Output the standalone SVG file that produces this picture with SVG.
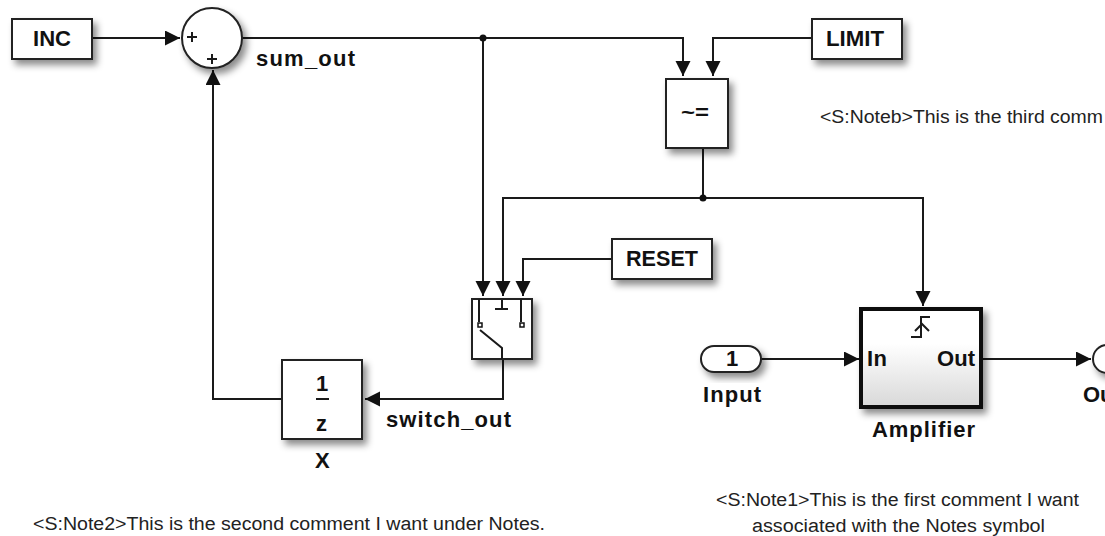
<svg xmlns="http://www.w3.org/2000/svg" width="1105" height="536" viewBox="0 0 1105 536">
<style>
text{font-family:"Liberation Sans",Arial,sans-serif;fill:#111}
.b{font-weight:bold;font-size:22px}
.c{font-size:18px;fill:#222}
.box{fill:#fff;stroke:#222;stroke-width:2;filter:url(#sh)}
.w{fill:none;stroke:#1a1a1a;stroke-width:2}
.i{fill:none;stroke:#1a1a1a;stroke-width:2}
</style>
<defs>
<filter id="sh" x="-30%" y="-30%" width="170%" height="170%"><feDropShadow dx="4" dy="5" stdDeviation="3.5" flood-color="#000" flood-opacity="0.45"/></filter>
<linearGradient id="g" x1="0" y1="0" x2="0" y2="1"><stop offset="0.35" stop-color="#fff"/><stop offset="1" stop-color="#d8d8d8"/></linearGradient>
<marker id="a" markerUnits="userSpaceOnUse" markerWidth="16" markerHeight="16" refX="15" refY="7.5" orient="auto"><path d="M0 0L15 7.5L0 15Z" fill="#111"/></marker>
</defs>
<g id="connectors">
<path class="w" d="M92 38H180" marker-end="url(#a)"/>
<path class="w" d="M242 38H683V76" marker-end="url(#a)"/>
<path class="w" d="M483 38V296" marker-end="url(#a)"/>
<path class="w" d="M812 38H713V76" marker-end="url(#a)"/>
<path class="w" d="M703 148V198H503V296" marker-end="url(#a)"/>
<path class="w" d="M703 198H923V306" marker-end="url(#a)"/>
<path class="w" d="M612 259H523V296" marker-end="url(#a)"/>
<path class="w" d="M503 359V399H365" marker-end="url(#a)"/>
<path class="w" d="M282 399H213V70" marker-end="url(#a)"/>
<path class="w" d="M761 359H859" marker-end="url(#a)"/>
<path class="w" d="M981 359H1091" marker-end="url(#a)"/>
<circle cx="483" cy="38" r="3.5" fill="#111"/>
<circle cx="703" cy="198" r="3.5" fill="#111"/>
</g>
<g id="inc"><rect class="box" x="12" y="19" width="80" height="40"/><text class="b" x="33" y="46" textLength="38" lengthAdjust="spacingAndGlyphs">INC</text></g>
<g id="sum"><circle class="box" cx="212" cy="38" r="30"/>
<path class="i" d="M187 37H197M192 32V42M207 59H217M212 54V64"/></g>
<text class="b" x="256" y="66" textLength="99">sum_out</text>
<g id="limit"><rect class="box" x="812" y="19" width="90" height="40"/><text class="b" x="826" y="46" textLength="58" lengthAdjust="spacingAndGlyphs">LIMIT</text></g>
<g id="compare"><rect class="box" x="666" y="79" width="62" height="69"/><text x="681" y="119" style="font-size:20px;font-weight:bold" textLength="28" lengthAdjust="spacingAndGlyphs">~=</text></g>
<g id="reset"><rect class="box" x="612" y="239" width="100" height="40"/><text class="b" x="626" y="266" textLength="72" lengthAdjust="spacingAndGlyphs">RESET</text></g>
<g id="switch"><rect class="box" x="472" y="299" width="60" height="60"/>
<path class="i" d="M479 299V322M521 299V322M495 309H508M502 300V309M480 330L502 348V359"/>
<rect x="478" y="323" width="4" height="4" fill="#fff" stroke="#111" stroke-width="1.500"/>
<rect x="520" y="323" width="4" height="4" fill="#fff" stroke="#111" stroke-width="1.500"/></g>
<g id="delay"><rect class="box" x="282" y="360" width="80" height="79"/>
<text class="b" x="316" y="391">1</text><path class="i" d="M316 399H329"/><text class="b" x="316" y="431">z</text></g>
<text class="b" x="315" y="468">X</text>
<text class="b" x="386" y="427" textLength="125">switch_out</text>
<g id="input"><rect class="box" x="701" y="346" width="60" height="26" rx="13"/><text class="b" x="726" y="366">1</text></g>
<text class="b" x="703" y="402" textLength="58">Input</text>
<g id="amplifier"><rect x="861" y="309" width="120" height="98" fill="url(#g)" stroke="#111" stroke-width="4" filter="url(#sh)"/>
<path class="i" d="M930 317H921V337H911M915 331L922 324L929 331"/>
<text class="b" x="867" y="366" textLength="20">In</text><text class="b" x="937" y="366" textLength="38">Out</text></g>
<text class="b" x="872" y="437" textLength="103">Amplifier</text>
<g id="output"><circle class="box" cx="1107" cy="359" r="14"/></g>
<text class="b" x="1083" y="402">Ou</text>
<text class="c" x="820" y="123" textLength="283" lengthAdjust="spacingAndGlyphs">&lt;S:Noteb&gt;This is the third comm</text>
<text class="c" x="33" y="530" textLength="512" lengthAdjust="spacingAndGlyphs">&lt;S:Note2&gt;This is the second comment I want under Notes.</text>
<text class="c" x="716" y="506" textLength="363" lengthAdjust="spacingAndGlyphs">&lt;S:Note1&gt;This is the first comment I want</text>
<text class="c" x="752" y="532" textLength="293" lengthAdjust="spacingAndGlyphs">associated with the Notes symbol</text>
</svg>
